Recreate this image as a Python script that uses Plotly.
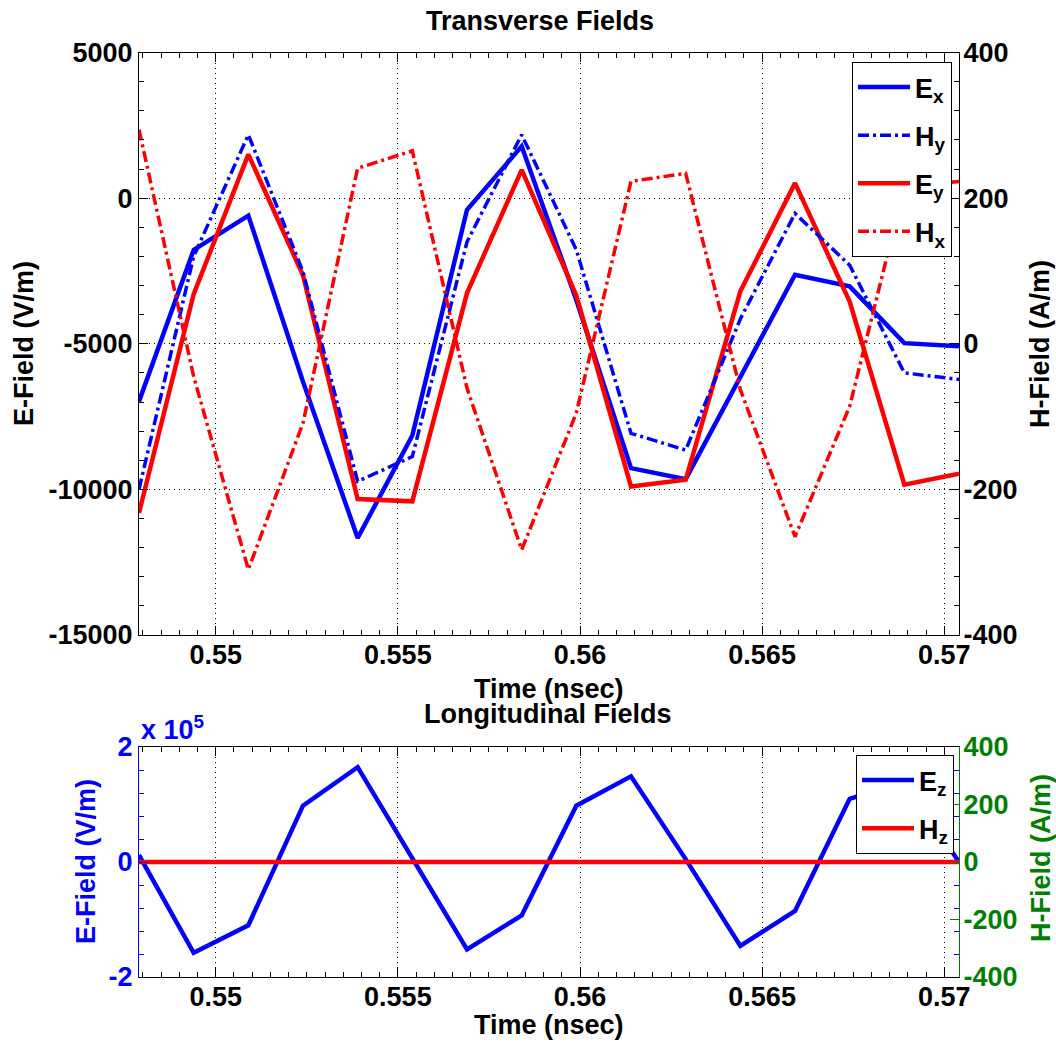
import plotly.graph_objects as go
import numpy as np

# Sample times (ns)
time_ns = [0.547893, 0.549394, 0.550895, 0.552395, 0.553896, 0.555397,
           0.556898, 0.558399, 0.559899, 0.561400, 0.562901, 0.564402,
           0.565903, 0.567403, 0.568904, 0.570405]

# Transverse fields
ex = [-6980, -1780, -600, -6300, -11670, -8150, -400, 1780,
      -3500, -9270, -9650, -6100, -2630, -3030, -4980, -5090]          # V/m
ey = [-10810, -3300, 1500, -2650, -10330, -10410, -3260, 970,
      -3340, -9900, -9670, -3200, 515, -3550, -9840, -9460]            # V/m
hy = [-200, 120, 287, 99, -189, -155, 140, 287,
      129, -123, -146, 34, 179, 108, -40, -49]                         # A/m
hx = [294, -45, -310, -109, 241, 265, -61, -283,
      -95, 223, 234, -63, -265, -86, 215, 223]                         # A/m

# Longitudinal fields
ez = [12000, -158000, -110000, 98000, 165000, 5000, -152000, -93000,
      98000, 149000, 5000, -146000, -85000, 110000, 140000, 0]         # V/m
hz = [0, 0, 0, 0, 0, 0, 0, 0, 0, 0, 0, 0, 0, 0, 0, 0]                  # A/m

x_ticks = [0.55, 0.555, 0.56, 0.565, 0.57]
x_tick_text = ["0.55", "0.555", "0.56", "0.565", "0.57"]
e_ticks = [-15000, -10000, -5000, 0, 5000]
h_ticks = [-400, -200, 0, 200, 400]
ez_ticks = [-200000, 0, 200000]
ez_tick_text = ["-2", "0", "2"]

W, H = 1056, 1043
FONT = "Liberation Sans, Arial, Helvetica, sans-serif"
FS = 27
BLUE, RED, GREEN = "#0000FF", "#FF0000", "#008000"
DASHDOT = "11px,4px,3px,4px"


def px(x):
    return x / W


def py(y):
    return 1 - y / H


fig = go.Figure()

fig.add_trace(go.Scatter(x=time_ns, y=ex, mode="lines", name="E<sub>x</sub>",
                         line=dict(color=BLUE, width=4.5), xaxis="x", yaxis="y",
                         legendrank=1, legendgroup="a"))
fig.add_trace(go.Scatter(x=time_ns, y=ey, mode="lines", name="E<sub>y</sub>",
                         line=dict(color=RED, width=4.5), xaxis="x", yaxis="y",
                         legendrank=3, legendgroup="c"))
fig.add_trace(go.Scatter(x=time_ns, y=hy, mode="lines", name="H<sub>y</sub>",
                         line=dict(color=BLUE, width=3.5, dash=DASHDOT),
                         xaxis="x", yaxis="y2", legendrank=2, legendgroup="b"))
fig.add_trace(go.Scatter(x=time_ns, y=hx, mode="lines", name="H<sub>x</sub>",
                         line=dict(color=RED, width=3.5, dash=DASHDOT),
                         xaxis="x", yaxis="y2", legendrank=4, legendgroup="d"))

fig.add_trace(go.Scatter(x=time_ns, y=ez, mode="lines", name="E<sub>z</sub>",
                         line=dict(color=BLUE, width=4.5), xaxis="x2", yaxis="y3",
                         legend="legend2", legendgroup="e"))
fig.add_trace(go.Scatter(x=time_ns, y=hz, mode="lines", name="H<sub>z</sub>",
                         line=dict(color=RED, width=4.5), xaxis="x2", yaxis="y4",
                         legend="legend2", legendgroup="f"))

tick_font = dict(family=FONT, size=FS, color="black", weight="bold")
x_range = [time_ns[0], time_ns[-1]]
x_minor = list(np.round(np.arange(0.5480, 0.5706, 0.0005), 5))
grid = dict(showgrid=True, gridcolor="#000000", griddash="1px,4px", gridwidth=1)

x_common = dict(range=x_range, tickmode="array", tickvals=x_ticks,
                ticktext=x_tick_text, ticks="inside", ticklen=9, tickwidth=1,
                tickcolor="black", showline=True, linecolor="black", linewidth=1,
                mirror="ticks", tickfont=tick_font, ticklabelstandoff=-4,
                zeroline=False, automargin=False,
                minor=dict(tickvals=x_minor, ticks="inside", ticklen=5,
                           tickcolor="black", showgrid=False),
                domain=[px(139), px(959)], **grid)

fig.update_layout(
    width=W, height=H, autosize=False,
    margin=dict(l=0, r=0, t=0, b=0, autoexpand=False),
    paper_bgcolor="white", plot_bgcolor="white",
    font=dict(family=FONT, size=FS, color="black", weight="bold"),
    xaxis=dict(anchor="y", **x_common),
    yaxis=dict(domain=[py(635), py(52.5)], range=[-15000, 5000],
               tickmode="array", tickvals=e_ticks, ticktext=[str(v) for v in e_ticks],
               ticks="inside", ticklen=9, tickcolor="black", showline=True,
               linecolor="black", linewidth=1, zeroline=False, automargin=False,
               tickfont=tick_font, ticklabelstandoff=0,
               minor=dict(tickvals=list(range(-15000, 5001, 1000)), ticks="inside",
                          ticklen=5, tickcolor="black", showgrid=False),
               **grid),
    yaxis2=dict(overlaying="y", side="right", anchor="x", range=[-400, 400],
                tickmode="array", tickvals=h_ticks, ticktext=[str(v) for v in h_ticks],
                ticks="inside", ticklen=9, tickcolor="black", showline=True,
                linecolor="black", linewidth=1, zeroline=False, showgrid=False,
                automargin=False, tickfont=tick_font, ticklabelstandoff=-2,
                minor=dict(tickvals=list(range(-400, 401, 40)), ticks="inside",
                           ticklen=5, tickcolor="black", showgrid=False)),
    xaxis2=dict(anchor="y3", **x_common),
    yaxis3=dict(domain=[py(977), py(747)], range=[-200000, 200000],
                tickmode="array", tickvals=ez_ticks, ticktext=ez_tick_text,
                ticks="inside", ticklen=9, tickcolor=BLUE, showline=True,
                linecolor=BLUE, linewidth=1, zeroline=False, mirror="ticks",
                automargin=False,
                tickfont=dict(tick_font, color=BLUE), ticklabelstandoff=0,
                minor=dict(tickvals=list(range(-200000, 200001, 40000)),
                           ticks="inside", ticklen=5, tickcolor=BLUE, showgrid=False),
                **grid),
    yaxis4=dict(overlaying="y3", side="right", anchor="x2", range=[-400, 400],
                tickmode="array", tickvals=h_ticks, ticktext=[str(v) for v in h_ticks],
                ticks="inside", ticklen=9, tickcolor=GREEN, showline=True,
                linecolor=GREEN, linewidth=1, zeroline=False, showgrid=False,
                automargin=False,
                tickfont=dict(tick_font, color=GREEN), ticklabelstandoff=-2),
    legend=dict(x=px(952), y=py(62), xanchor="right", yanchor="top",
                bgcolor="white", bordercolor="black", borderwidth=1,
                font=dict(family=FONT, size=FS, color="black", weight="bold"),
                itemwidth=52, tracegroupgap=10, traceorder="grouped"),
    legend2=dict(x=px(954), y=py(755), xanchor="right", yanchor="top",
                 bgcolor="white", bordercolor="black", borderwidth=1,
                 font=dict(family=FONT, size=FS, color="black", weight="bold"),
                 itemwidth=52, tracegroupgap=10, traceorder="grouped"),
)

ann_font = dict(family=FONT, size=FS, color="black", weight="bold")


def label(text, x, y, color="black", angle=0):
    fig.add_annotation(text=text, x=px(x), y=py(y), xref="paper", yref="paper",
                       showarrow=False, textangle=angle, xanchor="center",
                       yanchor="middle", font=dict(ann_font, color=color))


label("Transverse Fields", 540, 21)
label("E-Field (V/m)", 24, 344, angle=-90)
label("H-Field (A/m)", 1040, 344, angle=-90)
label("Time (nsec)", 549, 689)
label("Longitudinal Fields", 547, 714)
label("E-Field (V/m)", 86, 862, color=BLUE, angle=-90)
label("H-Field (A/m)", 1041, 858, color=GREEN, angle=-90)
label("Time (nsec)", 549, 1025)
fig.add_annotation(text="x 10<sup>5</sup>", x=px(139), y=py(728), xref="paper",
                   yref="paper", showarrow=False, xanchor="left", yanchor="middle",
                   font=dict(ann_font, color=BLUE))

fig.write_html("out.html")
